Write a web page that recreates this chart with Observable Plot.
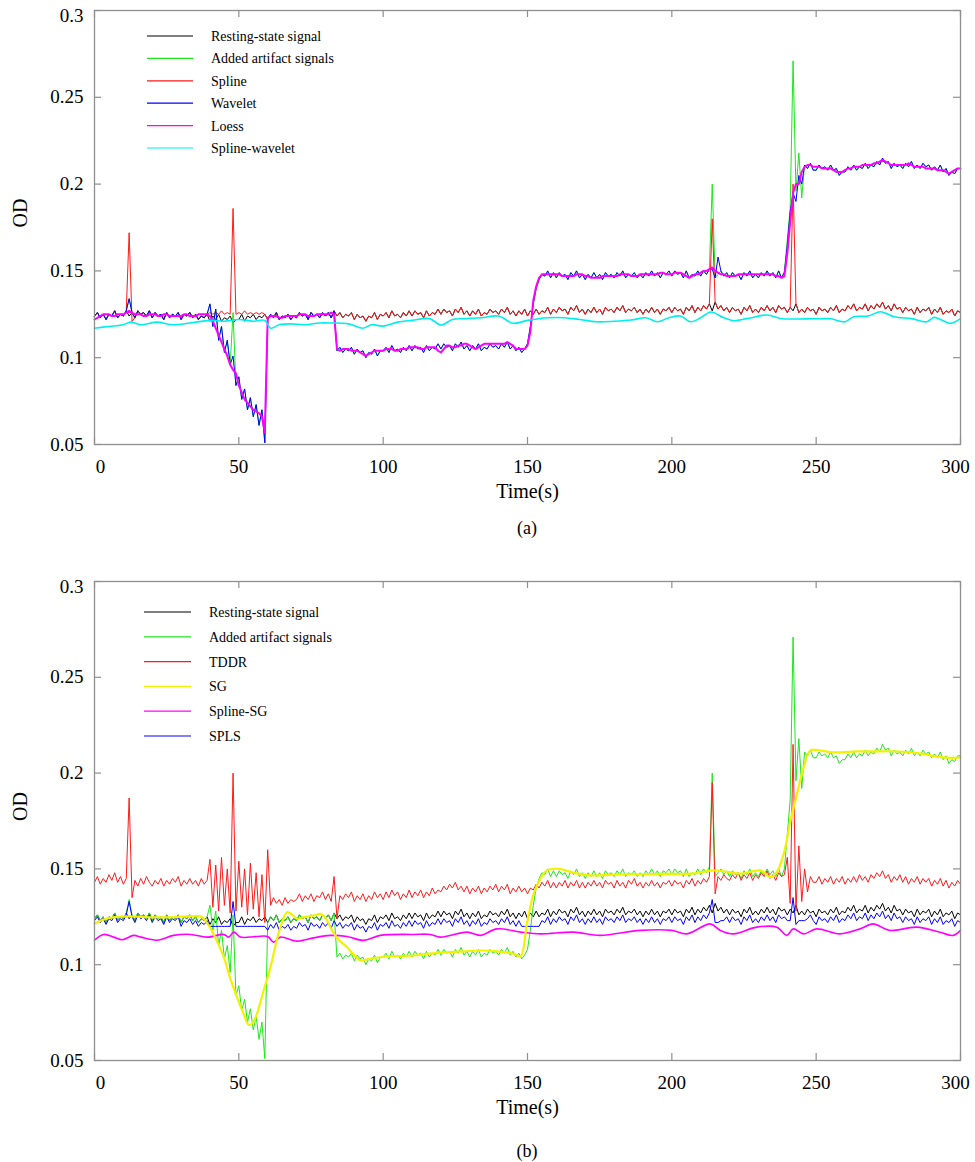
<!DOCTYPE html>
<html><head><meta charset="utf-8">
<script src="https://cdn.jsdelivr.net/npm/d3@7"></script>
<script src="https://cdn.jsdelivr.net/npm/@observablehq/plot@0.6"></script>
<style>
html,body{margin:0;padding:0;background:#fff;overflow:hidden;}
body{font-family:"Liberation Serif","Times New Roman",serif;color:#000;}
.cap{width:975px;box-sizing:border-box;padding-left:94px;padding-right:15px;text-align:center;font-size:18px;font-family:"Liberation Serif",serif;}
svg{display:block;}
svg text{font-family:"Liberation Serif","Times New Roman",serif !important;}
</style></head><body>
<div id="pa"></div><div class="cap" style="height:36px;line-height:36px">(a)</div>
<div id="pb"></div><div class="cap" style="height:50px;line-height:50px">(b)</div>
<script>
// All signal values are in milli-OD (1 unit = 0.001 OD), sampled once per second, t = 0..300 s
const restingMilliOD = [
124,126,123,125,122,125,124,127,123,125,
124,127,124,126,123,127,125,126,124,127,
123,126,124,125,122,126,123,125,124,126,
122,125,124,126,123,125,122,124,123,125,
121,124,122,125,121,123,122,124,120,122,
122,125,121,124,123,125,122,124,123,125,
122,125,123,126,122,124,123,125,122,124,
123,126,124,125,122,126,124,125,123,126,
124,126,123,127,124,126,123,125,124,126,
122,125,123,124,121,124,123,126,122,125,
124,126,123,127,124,125,123,126,124,127,
124,127,125,126,123,127,124,126,125,128,
125,128,126,127,124,128,126,129,125,127,
124,127,125,128,124,126,125,128,126,127,
125,128,126,129,125,127,124,127,125,128,
124,127,125,128,125,127,126,129,125,128,
126,129,127,128,125,129,127,130,126,128,
125,128,126,129,126,128,125,129,127,128,
126,129,127,130,126,128,127,129,126,128,
125,128,126,129,126,128,125,128,127,129,
126,129,127,128,125,129,127,130,126,129,
127,130,128,131,127,132,128,130,127,129,
126,129,127,128,125,129,127,130,126,128,
126,129,127,130,127,129,126,130,128,129,
126,129,127,131,126,128,126,129,127,128,
125,129,127,128,126,129,127,130,126,128,
127,130,128,131,127,129,128,131,127,130,
128,131,129,132,128,130,127,131,128,129,
126,129,127,128,125,129,126,128,127,129,
125,128,126,129,125,127,126,128,124,127,
126];
const artifactMilliOD = [
124,126,123,125,122,125,124,127,123,125,
124,127,134,126,123,127,125,126,124,127,
123,126,124,125,122,126,123,125,124,126,
122,125,124,126,123,125,122,124,123,125,
131,118,128,110,118,103,110,96,126,84,
89,76,82,70,77,66,73,61,70,51,
122,125,123,126,122,124,123,125,122,124,
123,126,124,125,122,126,124,125,123,126,
124,126,123,127,104,106,103,105,104,106,
102,105,103,104,100,103,102,105,101,104,
104,106,103,107,104,105,103,106,104,107,
104,107,105,106,103,107,104,106,105,108,
105,108,106,107,104,108,106,109,105,107,
104,107,105,108,104,106,105,108,106,107,
105,108,106,109,105,107,104,106,103,105,
108,118,131,140,145,148,147,150,146,149,
146,149,147,148,145,149,147,150,146,148,
145,148,146,149,146,148,145,149,147,148,
146,149,147,150,146,148,147,149,146,148,
146,149,147,150,147,149,146,149,148,150,
147,150,148,149,146,150,146,148,147,150,
147,150,148,151,200,146,148,150,147,149,
146,149,147,148,145,149,147,150,146,148,
146,149,147,150,147,149,146,150,146,150,
168,186,271,196,218,192,211,209,212,208,
208,211,209,210,208,211,208,209,205,207,
207,210,208,211,208,210,209,212,209,211,
210,213,211,215,212,213,209,212,210,211,
209,212,210,213,209,211,209,212,210,211,
208,210,208,211,207,209,205,207,206,209,
209];
const splineMilliOD = [
124,126,123,125,122,125,124,127,123,125,
124,127,172,121,123,127,125,126,124,127,
123,126,124,125,122,126,123,125,124,126,
122,125,124,126,123,125,122,124,123,125,
126,125,126,125,127,125,126,125,186,125,
126,125,127,125,126,125,126,125,126,125,
122,125,123,126,122,124,123,125,122,124,
123,126,124,125,122,126,124,125,123,126,
124,126,123,127,124,126,123,125,124,126,
122,125,123,124,121,124,123,126,122,125,
124,126,123,127,124,125,123,126,124,127,
124,127,125,126,123,127,124,126,125,128,
125,128,126,127,124,128,126,129,125,127,
124,127,125,128,124,126,125,128,126,127,
125,128,126,129,125,127,124,127,125,128,
124,127,125,128,125,127,126,129,125,128,
126,129,127,128,125,129,127,130,126,128,
125,128,126,129,126,128,125,129,127,128,
126,129,127,130,126,128,127,129,126,128,
125,128,126,129,126,128,125,128,127,129,
126,129,127,128,125,129,127,130,126,129,
127,130,128,131,180,132,128,130,127,129,
126,129,127,128,125,129,127,130,126,128,
126,129,127,130,127,129,126,130,128,129,
126,129,200,131,126,128,126,129,127,128,
125,129,127,128,126,129,127,130,126,128,
127,130,128,131,127,129,128,131,127,130,
128,131,129,132,128,130,127,131,128,129,
126,129,127,128,125,129,126,128,127,129,
125,128,126,129,125,127,126,128,124,127,
126];
const waveletMilliOD = [
124,126,123,125,122,125,124,127,123,125,
124,127,134,126,123,127,125,126,124,127,
123,126,124,125,122,126,123,125,124,126,
122,125,124,126,123,125,122,124,123,125,
131,118,128,110,118,103,110,96,101,84,
89,76,82,70,77,66,73,61,70,51,
122,125,123,126,122,124,123,125,122,124,
123,126,124,125,122,126,124,125,123,126,
124,126,123,127,104,106,103,105,104,106,
102,105,103,104,100,103,102,105,101,104,
104,106,103,107,104,105,103,106,104,107,
104,107,105,106,103,107,104,106,105,108,
105,108,106,107,104,108,106,109,105,107,
104,107,105,108,104,106,105,108,106,107,
105,108,106,109,105,107,104,106,103,105,
108,118,131,140,145,148,147,150,146,149,
146,149,147,148,145,149,147,150,146,148,
145,148,146,149,146,148,145,149,147,148,
146,149,147,150,146,148,147,149,146,148,
146,149,147,150,147,149,146,149,148,150,
147,150,148,149,146,150,146,148,147,150,
147,150,148,151,151,146,158,150,147,149,
146,149,147,148,145,149,147,150,146,148,
146,149,147,150,147,149,146,150,146,149,
165,184,195,190,205,200,211,209,212,208,
208,211,209,210,208,211,208,209,205,207,
207,210,208,211,208,210,209,212,209,211,
210,213,211,215,212,213,209,212,210,211,
209,212,210,213,209,211,209,212,210,211,
208,210,208,211,207,209,205,207,206,209,
209];
const loessMilliOD = [
122,123,124,125,125,125,124,124,125,125,
125,126,127,126,125,125,125,124,124,125,
125,125,124,124,125,125,124,124,124,124,
124,125,125,124,124,124,125,125,125,125,
124,121,117,113,109,105,101,96,93,91,
84,80,76,74,72,70,69,68,66,57,
123,124,124,124,123,123,124,124,124,124,
124,125,125,125,124,124,124,125,125,125,
125,125,126,125,105,104,105,105,105,104,
104,104,103,102,101,102,103,104,104,104,
104,105,105,105,104,104,105,105,105,106,
106,106,106,105,105,106,106,106,106,104,
103,105,107,107,106,106,107,107,108,108,
107,106,105,106,107,108,108,108,108,108,
108,108,108,109,108,107,105,105,105,105,
107,115,133,141,146,148,148,148,148,148,
148,148,147,147,147,147,147,148,148,148,
147,147,146,146,146,146,147,147,147,147,
147,147,148,148,148,148,147,147,147,148,
148,148,148,148,148,148,149,149,148,148,
148,149,149,149,148,147,146,147,148,148,
149,150,150,151,152,150,149,148,148,147,
147,147,147,148,148,148,148,148,148,148,
148,148,148,148,148,148,147,147,146,147,
160,178,195,200,200,207,210,211,211,210,
210,210,209,209,209,209,208,207,207,207,
208,209,209,210,210,210,211,211,211,211,
212,212,213,214,213,212,211,211,211,211,
211,211,212,211,210,210,210,210,209,209,
209,209,208,208,208,207,206,207,208,209,
209];
const tddrMilliOD = [
143,146,142,145,143,147,144,148,143,146,
142,145,187,135,144,141,145,142,146,143,
141,144,142,145,141,144,142,145,143,146,
141,144,142,145,142,144,141,145,142,144,
155,130,152,128,156,131,150,127,200,128,
154,130,150,126,153,129,148,125,147,122,
160,131,135,132,134,131,135,132,134,133,
134,137,133,136,134,137,133,136,135,138,
134,137,133,146,124,136,134,137,135,138,
133,136,134,137,133,136,134,138,135,137,
134,138,135,139,136,138,134,137,135,139,
135,138,136,139,135,138,136,140,137,139,
138,141,139,142,140,143,139,141,138,141,
137,140,138,141,137,140,138,141,139,142,
138,141,139,142,137,140,138,141,138,140,
137,140,139,142,140,143,141,144,140,143,
140,143,141,144,140,143,141,144,140,143,
140,143,141,144,141,143,140,144,142,143,
140,144,141,143,140,144,142,145,141,143,
140,143,141,144,141,143,140,143,142,144,
141,144,142,143,140,144,142,145,141,144,
142,145,143,146,195,137,146,144,147,145,
144,147,145,148,144,147,145,148,144,147,
145,148,146,149,145,147,144,148,146,147,
156,132,215,128,162,133,150,138,146,143,
143,146,142,145,143,146,142,145,143,146,
142,145,143,146,143,147,144,146,143,147,
145,148,146,149,145,147,143,146,144,147,
143,146,142,145,143,146,142,145,143,145,
141,144,142,145,141,144,140,143,141,144,
142];
const splsMilliOD = [
123,125,122,124,121,124,123,126,122,124,
123,126,133,125,122,126,124,125,123,126,
122,125,123,124,121,125,122,124,123,125,
120,123,122,124,121,123,120,122,121,123,
120,120,120,120,120,120,120,120,133,120,
120,120,120,120,120,120,120,120,120,120,
118,121,119,122,118,120,119,121,118,120,
119,122,120,121,118,122,120,121,119,122,
120,122,119,123,120,122,119,121,120,122,
118,121,119,120,117,120,119,122,118,121,
120,122,119,123,120,121,119,122,120,123,
120,123,121,122,119,123,120,122,121,124,
121,124,122,123,120,124,122,125,121,123,
120,123,121,124,120,122,121,124,122,123,
121,124,122,125,121,123,120,123,120,120,
120,120,120,120,120,123,122,125,121,124,
122,125,123,124,121,125,123,126,122,124,
121,124,122,125,122,124,121,125,123,124,
122,125,123,126,122,124,123,125,122,124,
121,124,122,125,122,124,121,124,123,125,
122,125,123,124,121,125,123,126,122,125,
123,126,124,127,134,122,122,123,123,125,
122,125,123,124,121,125,123,126,122,124,
122,125,123,126,123,125,122,126,124,125,
123,123,135,121,123,123,123,124,126,123,
121,125,123,124,122,125,123,126,122,124,
123,126,124,127,123,125,124,127,123,126,
124,127,125,128,124,126,123,127,124,125,
122,125,123,124,121,125,122,124,123,125,
121,124,122,125,121,123,122,124,120,123,
122];
// Smooth series, read at irregular times (s) with values in milli-OD
const splineWaveletTime = [0,5,10,12.5,16,21.7,27,33,40,45,50,55,59,61,64,68,73,78,82,88,93,96,100,105,110,116,120,124,128,134,140,145,150,157,163,168,174,180,186,191,195,199,203,206.4,210,213.5,218,221.4,226,233,237.6,243,249,255,260,263,268,272.3,277,283,288.4,290.7,293,296.5,300];
const splineWaveletMilliOD = [117,118,119,120.5,119,120.5,119,120,121.5,121,122,121,121.5,117,119,119.5,119,120,120,119.5,117,119,118.2,120.5,121.5,122.5,118.8,122,122.5,123,124,119.8,121.5,123,123,122,120.7,121,121.7,123,120.7,123,124,120.7,123,126.3,123,121.3,122.5,124.6,122.6,122.3,122.4,122.4,120.7,123.6,124,126.5,123.6,122.5,120.7,123.2,122,119.8,122.5];
const sgTime = [0,3,7,12,20,28,34,37,40,42.5,44.8,47,49.4,51.5,53.5,55,56.3,58.5,61,63,64.4,66.7,68.5,70.2,73,75.9,78.2,80,81.7,84,87.5,92.1,95,99,105,110.6,116,122.1,128,133.7,139.5,145.2,147.6,149.8,152.1,154.5,156.7,158,161,166,171.8,180,189,197,206.4,214.5,219,223.8,230.7,234.2,236.4,238.8,241.1,242.8,245.7,248,251.5,255,258.4,264,270,276,281.5,287,293,298.8,300];
const sgMilliOD = [121.5,123.5,124.8,125.2,124.7,124.8,125.3,125,119.5,112,104,93,83,75,68.5,70,74.5,86,99,112,119.5,127.4,126,124,125,125.6,126.5,124.5,119.6,114,109.1,102.2,103,103.9,104.5,104.8,105.8,106.5,107,107.4,107,105.7,104.5,121.3,137,145,149.2,149.8,150,148,146.6,147,147.2,147.4,147.5,149.2,148.5,147.5,149.2,145.7,148.5,158,175.3,185.7,203.1,211.9,211.7,211,210.8,211.3,211.3,211.4,211,210,208.3,208,208.3];
const splineSgTime = [0,3.2,6.7,9.6,13.6,16,21.7,27.4,33.3,39,44.8,46.5,48.3,50.6,56,60,62,64.4,70.2,75.9,81.7,87.5,93.2,99,110.6,116.4,119.8,129,133.7,139.5,147.6,154.5,166,175.2,189,200,205.2,213.3,216.8,221.4,229.4,236.4,239.8,242.1,245.6,250.2,258.2,265.2,269.7,275.5,284.8,292.9,297.5,300];
const splineSgMilliOD = [112.8,115.8,114.4,113,115.3,114.4,112.8,115.3,115.8,114.4,115.8,114.4,117,114.4,114.7,114.7,111.8,114.4,112.3,114,115.3,114.7,112.7,115.3,115.8,115.8,114.4,117,115.3,118.7,117,116.1,117,115.3,117.9,117.9,116.1,121.3,117.9,116.1,119.6,119.6,115.3,118.7,116.1,118.7,116.1,118.7,121.3,117.9,119.6,116.9,115.3,117.9];

const xTicks = [0,50,100,150,200,250,300];
const yTicks = [0.05,0.1,0.15,0.2,0.25,0.3];
const legendA = ["Resting-state signal","Added artifact signals","Spline","Wavelet","Loess","Spline-wavelet"];
const legendB = ["Resting-state signal","Added artifact signals","TDDR","SG","Spline-SG","SPLS"];

const MILLI = 0.001;
const C = {black:"#000000", green:"#1ee61e", red:"#ff1a1a", blue:"#0000ff", magenta:"#ff00ff", cyan:"#00eeee", yellow:"#f2f200"};

const dense = vals => vals.map((v,i) => ({t:i, od:v*MILLI}));
const sparse = (ts, vs) => ts.map((t,i) => ({t, od:vs[i]*MILLI}));
const line = (data, stroke, w, curve) => Plot.line(data, {x:"t", y:"od", stroke, strokeWidth:w, curve: curve || "linear"});

const SERIF = "Liberation Serif";

function panel({height, marginTop, lines, legendNames, legendColors, legendTop, legendStep, lx1, lx2, tx}) {
  const W = 975, ML = 94, MR = 15, MB = 66;
  const fw = W - ML - MR, fh = height - marginTop - MB;
  const gray = "#8f8f8f";
  const fmt = d => String(d);
  const tf = {fontFamily: SERIF, fontSize: 19};
  const svg = Plot.plot({
    width: W, height, marginLeft: ML, marginRight: MR, marginTop, marginBottom: MB,
    style: {fontFamily: SERIF, fontSize: "19px", color: "#000", background: "#fff", overflow: "visible"},
    x: {domain: [0, 300]},
    y: {domain: [0.05, 0.3]},
    marks: [
      ...lines,
      Plot.frame({stroke: gray, strokeWidth: 1.3}),
      Plot.tickY(yTicks, {y: d => d, stroke: gray, strokeWidth: 1.2, insetRight: fw - 7}),
      Plot.tickY(yTicks, {y: d => d, stroke: gray, strokeWidth: 1.2, insetLeft: fw - 7}),
      Plot.tickX(xTicks, {x: d => d, stroke: gray, strokeWidth: 1.2, insetTop: fh - 7}),
      Plot.tickX(xTicks, {x: d => d, stroke: gray, strokeWidth: 1.2, insetBottom: fh - 7}),
      Plot.axisY(yTicks.slice(0, -1), {tickSize: 0, tickPadding: 11, tickFormat: fmt, label: null, ...tf}),
      Plot.axisY(yTicks.slice(-1), {tickSize: 0, tickPadding: 11, dy: 5, tickFormat: fmt, label: null, ...tf}),
      Plot.axisX(xTicks.slice(1, -1), {tickSize: 0, tickPadding: 15, tickFormat: fmt, label: null, ...tf}),
      Plot.axisX(xTicks.slice(0, 1), {tickSize: 0, tickPadding: 15, dx: 6, tickFormat: fmt, label: null, ...tf}),
      Plot.axisX(xTicks.slice(-1), {tickSize: 0, tickPadding: 15, dx: -5, tickFormat: fmt, label: null, ...tf}),
      Plot.text(["Time(s)"], {text: d => d, frameAnchor: "bottom", dy: 53, fontSize: 20, fontFamily: SERIF}),
      Plot.text(["OD"], {text: d => d, frameAnchor: "left", dx: -74, rotate: -90, fontSize: 20, fontFamily: SERIF})
    ]
  });
  const g = d3.select(svg).append("g").attr("font-family", SERIF).attr("font-size", 14).attr("text-anchor", "start");
  legendNames.forEach((name, i) => {
    const y = legendTop + i * legendStep;
    g.append("line").attr("x1", lx1).attr("x2", lx2).attr("y1", y).attr("y2", y)
      .attr("stroke", legendColors[i]).attr("stroke-width", 1.2);
    g.append("text").attr("x", tx).attr("y", y).attr("dy", "0.35em").attr("fill", "#000")
      .attr("text-anchor", "start").text(name);
  });
  return svg;
}

const resting = dense(restingMilliOD), artifact = dense(artifactMilliOD);

document.getElementById("pa").append(panel({
  height: 510, marginTop: 10,
  lines: [
    line(resting, C.black, 1),
    line(artifact, C.green, 1),
    line(dense(splineMilliOD), C.red, 1),
    line(dense(waveletMilliOD), C.blue, 1),
    line(dense(loessMilliOD), C.magenta, 2),
    line(sparse(splineWaveletTime, splineWaveletMilliOD), C.cyan, 1.6, "catmull-rom")
  ],
  legendNames: legendA,
  legendColors: [C.black, C.green, C.red, C.blue, C.magenta, C.cyan],
  legendTop: 36, legendStep: 22.4, lx1: 147, lx2: 193, tx: 211
}));

document.getElementById("pb").append(panel({
  height: 580, marginTop: 35,
  lines: [
    line(resting, C.black, 1),
    line(artifact, C.green, 1),
    line(dense(tddrMilliOD), C.red, 1),
    line(dense(splsMilliOD), C.blue, 1),
    line(sparse(splineSgTime, splineSgMilliOD), C.magenta, 1.6, "catmull-rom"),
    line(sparse(sgTime, sgMilliOD), C.yellow, 2.2, "catmull-rom")
  ],
  legendNames: legendB,
  legendColors: [C.black, C.green, C.red, C.yellow, C.magenta, C.blue],
  legendTop: 66, legendStep: 24.8, lx1: 144, lx2: 191, tx: 209
}));
</script>
</body></html>
